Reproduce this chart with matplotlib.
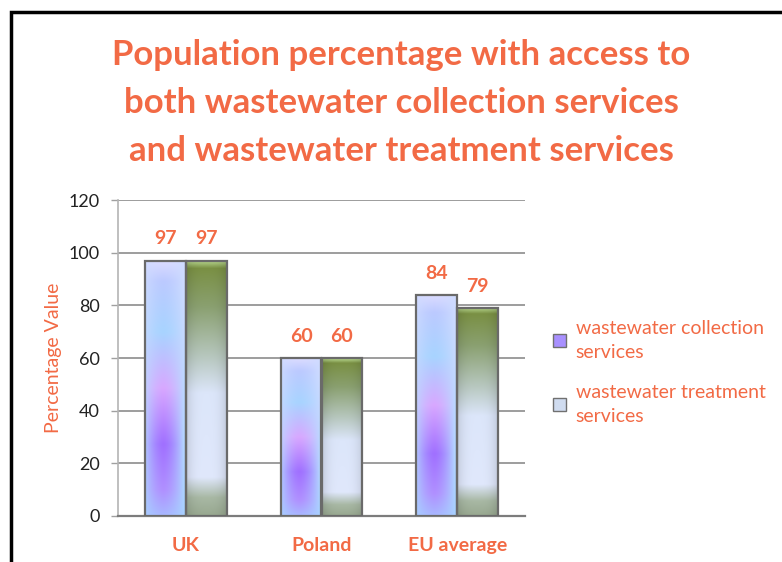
import matplotlib.pyplot as plt
import numpy as np
from matplotlib.patches import Rectangle, Patch
from matplotlib.colors import to_rgb

plt.rcParams['font.family'] = ['Lato', 'DejaVu Sans']

countries = ["UK", "Poland", "EU average"]
collection = [97, 60, 84]
treatment = [97, 60, 79]
series_names = ["wastewater collection\nservices", "wastewater treatment\nservices"]
y_ticks = [0, 20, 40, 60, 80, 100, 120]

orange = "#f26a45"


def blend(stops, n):
    # piecewise linear colour ramp from (pos, colour) stops
    pos = np.array([s[0] for s in stops])
    cols = np.array([to_rgb(s[1]) for s in stops])
    t = np.linspace(0, 1, n)
    return np.stack([np.interp(t, pos, cols[:, k]) for k in range(3)], axis=1)


def collection_img(h=200, w=40):
    # rows go top -> bottom
    mid = blend([(0, "#dcdcff"), (0.08, "#bccaff"), (0.28, "#a8d4ff"),
                 (0.5, "#d8a8ff"), (0.72, "#a070ff"), (0.9, "#b090ff"),
                 (1, "#a8b8ff")], h)
    edge = blend([(0, "#d0dcff"), (1, "#a8d0ff")], h)
    x = np.linspace(-1, 1, w)
    wgt = np.clip(1 - np.abs(x + 0.1) ** 1.6, 0, 1)[None, :, None]
    return edge[:, None, :] * (1 - wgt) + mid[:, None, :] * wgt


def treatment_img(h=200, w=40):
    mid = blend([(0, "#b8d890"), (0.03, "#7a9044"), (0.18, "#8aa070"),
                 (0.38, "#b8c8c0"), (0.52, "#dce6fa"), (0.85, "#e0e8fc"),
                 (0.93, "#a8b8a4"), (1, "#98a890")], h)
    x = np.linspace(-1, 1, w)
    shade = (1 - 0.12 * np.abs(x) ** 3)[None, :, None]
    return mid[:, None, :] * shade


fig = plt.figure(figsize=(7.82, 5.62), dpi=100)
fig.patch.set_facecolor("white")

# outer chart frame
fig.patches.append(Rectangle((11 / 782, -0.01), 1.0, 1 - 12 / 562 + 0.01,
                             transform=fig.transFigure, fill=False,
                             edgecolor="black", linewidth=2.5))

ax = fig.add_axes([118 / 782, 1 - 516 / 562, (525 - 118) / 782, (516 - 200) / 562])

x = np.arange(len(countries))
bw = 0.3
bars1 = ax.bar(x - bw / 2, collection, bw, facecolor="none", edgecolor="#6a6a6a",
               linewidth=1.6, zorder=4)
bars2 = ax.bar(x + bw / 2, treatment, bw, facecolor="none", edgecolor="#6a6a6a",
               linewidth=1.6, zorder=4)

img1 = collection_img()
img2 = treatment_img()
for bars, img in ((bars1, img1), (bars2, img2)):
    for b in bars:
        x0, w, h = b.get_x(), b.get_width(), b.get_height()
        im = ax.imshow(img, extent=(x0, x0 + w, 0, h), aspect="auto", zorder=3,
                       interpolation="bilinear")
        im.set_clip_path(b)

for bars, vals in ((bars1, collection), (bars2, treatment)):
    for b, v in zip(bars, vals):
        ax.text(b.get_x() + b.get_width() / 2, v + 5, str(v), ha="center",
                va="bottom", color=orange, fontsize=14, fontweight="bold")

ax.set_xlim(-0.5, len(countries) - 0.5)
ax.set_ylim(0, 120)
ax.set_yticks(y_ticks)
ax.set_xticks(x)
ax.set_xticklabels(countries, color=orange, fontsize=14, fontweight="bold")
ax.tick_params(axis="x", length=0, pad=15)
ax.tick_params(axis="y", length=5, width=1, color="#a0a0a0", labelsize=13,
               labelcolor="#222222", pad=8)
ax.yaxis.grid(True, color="#8c8c8c", linewidth=1.2)
ax.set_axisbelow(True)
for s in ("top", "right"):
    ax.spines[s].set_visible(False)
ax.spines["left"].set_color("#b4b4b4")
ax.spines["left"].set_linewidth(1.2)
ax.spines["bottom"].set_color("#7c7c7c")
ax.spines["bottom"].set_linewidth(1.6)
ax.set_ylabel("Percentage Value", color=orange, fontsize=14, labelpad=5)

fig.text(401 / 782, 1 - 103 / 562,
         "Population percentage with access to\nboth wastewater collection services\nand wastewater treatment services",
         ha="center", va="center", color=orange, fontsize=25, fontweight="bold",
         linespacing=1.6)

handles = [Patch(facecolor="#a890ff", edgecolor="#707070"),
           Patch(facecolor="#d0dcf0", edgecolor="#707070")]
leg = fig.legend(handles, series_names, loc="upper left",
                 bbox_to_anchor=(535 / 782, 1 - 302 / 562), frameon=False,
                 fontsize=14, labelcolor=orange, handlelength=0.7, handleheight=0.7,
                 handletextpad=0.5, labelspacing=1.15)
for t in leg.get_texts():
    t.set_linespacing(1.55)

fig.savefig("out.png", dpi=100)
